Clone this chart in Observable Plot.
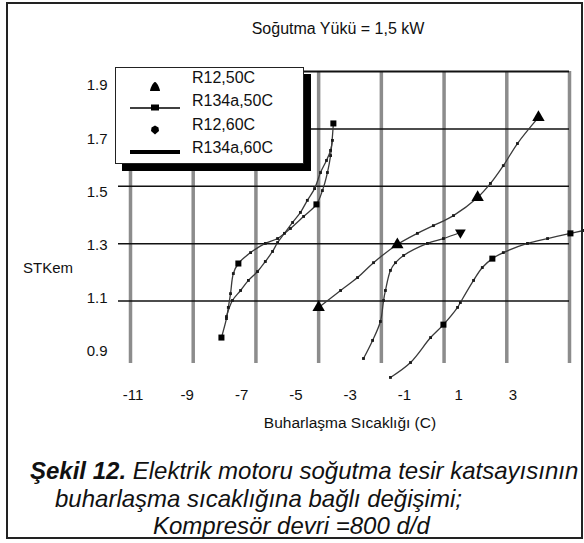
<!DOCTYPE html>
<html><head><meta charset="utf-8">
<script src="https://cdn.jsdelivr.net/npm/d3@7"></script>
<script src="https://cdn.jsdelivr.net/npm/@observablehq/plot@0.6"></script>
<style>
body{margin:0;background:#fff;font-family:"Liberation Sans",Arial,sans-serif;color:#111;}
#wrap{position:relative;width:584px;height:543px;overflow:hidden;background:#fff;}
.abs{position:absolute;}
.c{transform:translate(-50%,-50%);white-space:nowrap;}
.l{transform:translate(0,-50%);white-space:nowrap;}
#border{left:6px;top:2px;width:577px;height:537px;border:2px solid #222;box-sizing:border-box;}
#legend{left:115px;top:67px;width:189px;height:97px;border:1px solid #222;background:#fff;box-shadow:7px 7px 0 #000;box-sizing:border-box;}
.leg{font-size:16px;}
.cap{font-size:24px;font-style:italic;}
</style></head>
<body>
<div id="wrap">
  <div id="plotA" class="abs" style="left:0;top:0"></div>
  <div id="plotB" class="abs" style="left:0;top:0"></div>
  <div id="legend" class="abs"></div>
  <svg class="abs" style="left:0;top:0" width="584" height="200" id="legsym">
    <path d="M155,82 C157,82 160,89 160,91 L150,91 C150,89 153,82 155,82 Z" fill="#000"/>
    <line x1="130" x2="180" y1="108" y2="108" stroke="#000" stroke-width="1.6"/>
    <rect x="151" y="104.5" width="8" height="6" fill="#000"/>
    <path d="M155,125.5 L158.5,127.5 L159,131 L155,134.5 L151,131 L151.5,127.5 Z" fill="#000"/>
    <line x1="130" x2="180" y1="152" y2="152" stroke="#000" stroke-width="4"/>
  </svg>
  <div class="abs l leg" style="left:192px;top:78px">R12,50C</div>
  <div class="abs l leg" style="left:192px;top:101px">R134a,50C</div>
  <div class="abs l leg" style="left:192px;top:125px">R12,60C</div>
  <div class="abs l leg" style="left:192px;top:148px">R134a,60C</div>
  <div class="abs c" style="left:338px;top:29px;font-size:16px">Soğutma Yükü = 1,5 kW</div>
  <div class="abs c" style="left:48px;top:267px;font-size:15px">STKem</div>
  <div class="abs c" style="left:350px;top:423px;font-size:15.5px">Buharlaşma Sıcaklığı (C)</div>
  <div class="abs l cap" style="left:30px;top:471px"><b>Şekil 12.</b> Elektrik motoru soğutma tesir katsayısının</div>
  <div class="abs l cap" style="left:55px;top:499px">buharlaşma sıcaklığına bağlı değişimi;</div>
  <div class="abs l cap" style="left:153px;top:526px">Kompresör devri =800 d/d</div>
  <div id="border" class="abs"></div>
</div>
<script>
// ---- axis ticks ----
const xTicks = [-11, -9, -7, -5, -3, -1, 1, 3];
const yTicks = [0.9, 1.1, 1.3, 1.5, 1.7, 1.9];
const yGridLines = [1.1, 1.3, 1.5, 1.7];
const yFrameTop = [1.9];

// ---- curves ----
const curveL1_x = [-8.10,-7.94,-7.88,-7.81,-7.72,-7.56,-7.17,-6.70,-6.31,-5.90,-5.48,-5.07,-4.88,-4.72,-4.62,-4.53];
const curveL1_y = [0.973,1.039,1.078,1.126,1.196,1.231,1.269,1.301,1.318,1.353,1.395,1.437,1.485,1.548,1.607,1.719];

const curveL2_x = [-7.94,-7.75,-7.49,-7.24,-6.95,-6.70,-6.47,-6.31,-6.09,-5.83,-5.58,-5.36,-5.13,-4.94,-4.75,-4.62,-4.56];
const curveL2_y = [1.046,1.102,1.137,1.172,1.203,1.238,1.273,1.304,1.336,1.374,1.409,1.451,1.492,1.548,1.590,1.625,1.660];

const curveM1_x = [-5.00,-4.30,-3.76,-3.25,-2.49,-1.85,-1.34,-0.70,0.07,0.48,0.89,1.34,2.01];
const curveM1_y = [1.078,1.137,1.182,1.234,1.297,1.336,1.363,1.398,1.461,1.510,1.572,1.649,1.740];

const curveM2_x = [-3.57,-3.28,-3.03,-2.93,-2.87,-2.71,-2.55,-2.29,-1.53,-1.02,-0.48];
const curveM2_y = [0.900,0.963,1.029,1.102,1.137,1.207,1.234,1.259,1.301,1.318,1.339];

const curveM3_x = [-2.71,-2.07,-1.43,-1.02,-0.57,-0.48,-0.06,0.22,0.54,0.89,1.66,2.30,3.03,3.45];
const curveM3_y = [0.834,0.886,0.973,1.018,1.078,1.095,1.172,1.217,1.248,1.269,1.301,1.318,1.336,1.346];

// ---- large markers ----
const triX = [-5.00, -2.49, 0.07, 2.01];
const triY = [1.078, 1.297, 1.461, 1.740];
const sqX = [-8.10, -7.56, -5.07, -4.53, -1.02, 0.54, 3.03];
const sqY = [0.973, 1.231, 1.437, 1.719, 1.018, 1.248, 1.336];
const downX = [-0.48];
const downY = [1.339];

const curves = [
  {id: "R134a,60C a", xs: curveL1_x, ys: curveL1_y},
  {id: "R134a,60C b", xs: curveL2_x, ys: curveL2_y},
  {id: "R12,50C", xs: curveM1_x, ys: curveM1_y},
  {id: "R12,60C", xs: curveM2_x, ys: curveM2_y},
  {id: "R134a,50C", xs: curveM3_x, ys: curveM3_y}
];
const rows = curves.flatMap(c => c.xs.map((x, i) => ({curve: c.id, x, y: c.ys[i]})));
const tri = triX.map((x, i) => ({x, y: triY[i]}));
const sq = sqX.map((x, i) => ({x, y: sqY[i]}));
const down = downX.map((x, i) => ({x, y: downY[i]}));

const W = 584, H = 410;
const font = {fontFamily: "'Liberation Sans', Arial, sans-serif", fontSize: "15px", background: "transparent", overflow: "visible", color: "#111"};

// main plot: grid + data
const plotA = Plot.plot({
  width: W, height: H,
  marginLeft: 130, marginRight: 15, marginTop: 71, marginBottom: 47,
  style: font,
  x: {domain: [-11, 3], axis: null},
  y: {domain: [0.8826, 1.9], axis: null},
  marks: [
    Plot.ruleX(xTicks, {stroke: "#8c8c8c", strokeWidth: 3.5}),
    Plot.ruleY(yGridLines, {stroke: "#111", strokeWidth: 1.5, insetLeft: -12}),
    Plot.ruleY(yFrameTop, {stroke: "#111", strokeWidth: 2.2}),
    Plot.line(rows, {x: "x", y: "y", z: "curve", stroke: "#3a3a3a", strokeWidth: 1.3, curve: "catmull-rom"}),
    Plot.dot(rows, {x: "x", y: "y", symbol: "square", r: 1.6, fill: "#1a1a1a", stroke: null}),
    Plot.dot(tri, {x: "x", y: "y", symbol: "triangle", r: 4.6, fill: "#000"}),
    Plot.dot(sq, {x: "x", y: "y", symbol: "square", r: 3.4, fill: "#000"}),
    Plot.dot(down, {x: "x", y: "y", symbol: "triangle", r: 4, fill: "#000", rotate: 180})
  ]
});
document.getElementById("plotA").append(plotA);

// tick-label layer (labels sit where the reference prints them)
const plotB = Plot.plot({
  width: W, height: H,
  marginLeft: 132.5, marginRight: 71.5, marginTop: 85, marginBottom: 59,
  style: font,
  x: {domain: [-11, 3]},
  y: {domain: [0.9, 1.9]},
  marks: [
    Plot.axisX(xTicks, {tickSize: 0, tickPadding: 38, tickFormat: d => String(d), label: null, fontSize: 15}),
    Plot.axisY(yTicks, {tickSize: 0, tickPadding: 25.5, tickFormat: d => d.toFixed(1), label: null, fontSize: 15})
  ]
});
document.getElementById("plotB").append(plotB);
</script>
</body></html>
